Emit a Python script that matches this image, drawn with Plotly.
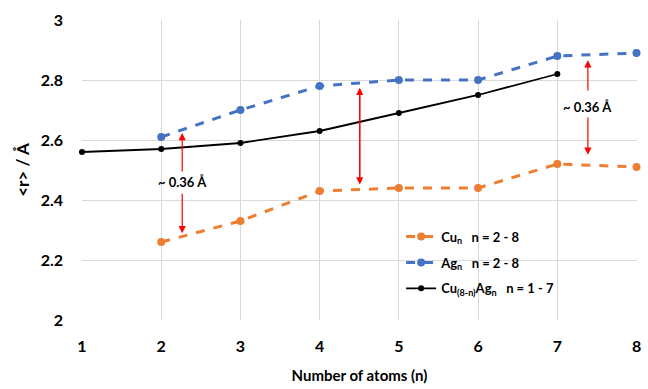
import plotly.graph_objects as go

n_cu = [2, 3, 4, 5, 6, 7, 8]
r_cu = [2.26, 2.33, 2.43, 2.44, 2.44, 2.52, 2.51]
n_ag = [2, 3, 4, 5, 6, 7, 8]
r_ag = [2.61, 2.70, 2.78, 2.80, 2.80, 2.88, 2.89]
n_mix = [1, 2, 3, 4, 5, 6, 7]
r_mix = [2.56, 2.57, 2.59, 2.63, 2.69, 2.75, 2.82]
x_ticks = [1, 2, 3, 4, 5, 6, 7, 8]
y_ticks = [2, 2.2, 2.4, 2.6, 2.8, 3]
gap_label = "~ 0.36 Å"

FONT = "Lato"
fig = go.Figure()
fig.add_trace(go.Scatter(x=n_cu, y=r_cu, mode="lines+markers", legendgroup="a",
                         name="<b>Cu<sub>n</sub>   n = 2 - 8</b>",
                         line=dict(color="#ED7D31", width=3, dash="dash"),
                         marker=dict(size=8, color="#ED7D31"), cliponaxis=False))
fig.add_trace(go.Scatter(x=n_ag, y=r_ag, mode="lines+markers", legendgroup="b",
                         name="<b>Ag<sub>n</sub>   n = 2 - 8</b>",
                         line=dict(color="#4472C4", width=3, dash="dash"),
                         marker=dict(size=8, color="#4472C4"), cliponaxis=False))
fig.add_trace(go.Scatter(x=n_mix, y=r_mix, mode="lines+markers", legendgroup="c",
                         name="<b>Cu<sub>(8-n)</sub>Ag<sub>n</sub>   n = 1 - 7</b>",
                         line=dict(color="black", width=1.8),
                         marker=dict(size=6, color="black"), cliponaxis=False))

def arrow(x, y, ax, ay):
    fig.add_annotation(x=x, y=y, ax=ax, ay=ay, xref="x", yref="y", axref="x", ayref="y",
                       text="", showarrow=True, arrowhead=2, arrowsize=1.2,
                       arrowwidth=1.2, arrowcolor="red")

# arrow 1 with label
arrow(2.265, 2.623, 2.265, 2.49)
arrow(2.265, 2.289, 2.265, 2.426)
fig.add_annotation(x=2.265, y=2.461, text="<b>" + gap_label + "</b>", showarrow=False,
                   font=dict(family=FONT, size=13, color="black"))
# arrow 2 (double headed)
arrow(4.506, 2.774, 4.506, 2.452)
arrow(4.506, 2.452, 4.506, 2.774)
# arrow 3 with label
arrow(7.386, 2.866, 7.386, 2.76)
arrow(7.386, 2.551, 7.386, 2.68)
fig.add_annotation(x=7.386, y=2.711, text="<b>" + gap_label + "</b>", showarrow=False,
                   font=dict(family=FONT, size=13, color="black"))

fig.update_layout(
    width=648, height=389,
    margin=dict(l=82, r=7, t=20, b=64),
    paper_bgcolor="white", plot_bgcolor="white",
    font=dict(family=FONT, color="black"),
    legend=dict(x=0.575, y=0.328, xanchor="left", yanchor="top",
                bgcolor="rgba(255,255,255,0)", font=dict(family=FONT, size=13, color="black"),
                traceorder="grouped", tracegroupgap=6),
    xaxis=dict(range=[1, 8.006], tickvals=x_ticks, showgrid=True, gridcolor="#D9D9D9",
               zeroline=False, showline=False, ticklabeloverflow="allow",
               tickfont=dict(family=FONT, size=16, color="black", weight="bold"),
               ticklabelstandoff=15,
               title=dict(text="<b>Number of atoms (n)</b>", font=dict(family=FONT, size=15),
                          standoff=16)),
    yaxis=dict(range=[2, 3], tickvals=y_ticks, ticktext=["2", "2.2", "2.4", "2.6", "2.8", "3"],
               showgrid=True, gridcolor="#D9D9D9", zeroline=False, showline=False,
               tickfont=dict(family=FONT, size=16, color="black", weight="bold"),
               ticklabelstandoff=18,
               title=dict(text="<b>&lt;r&gt; / Å</b>", font=dict(family=FONT, size=17),
                          standoff=6)),
)
fig.write_html("out.html", config={"displayModeBar": False},
               post_script="document.body.style.margin='0px';")
